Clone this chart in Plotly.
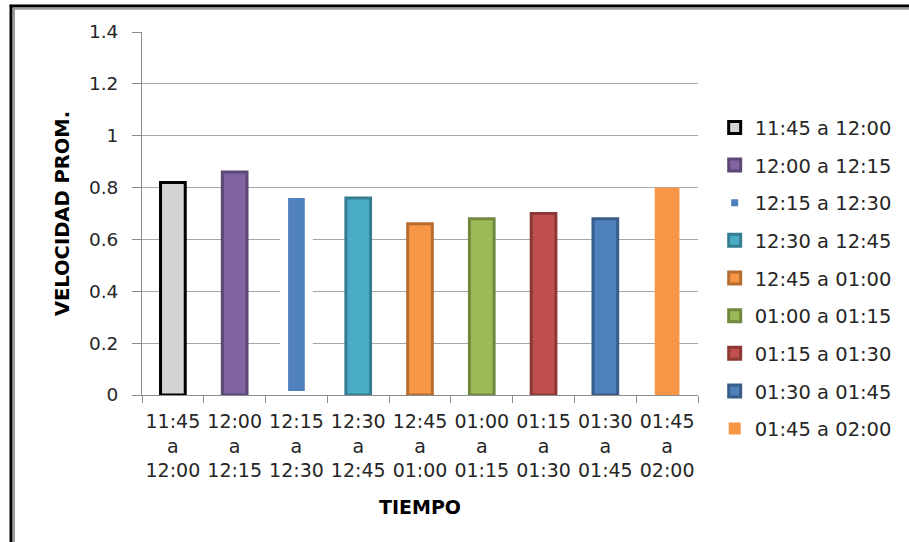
import plotly.graph_objects as go

# Intervalos de tiempo (categorías del eje X y nombres de la leyenda)
intervalos = ["11:45 a 12:00", "12:00 a 12:15", "12:15 a 12:30", "12:30 a 12:45",
              "12:45 a 01:00", "01:00 a 01:15", "01:15 a 01:30", "01:30 a 01:45",
              "01:45 a 02:00"]
# Velocidad promedio de cada intervalo
velocidad = [0.82, 0.86, 0.775, 0.76, 0.66, 0.68, 0.70, 0.68, 0.80]

# Relleno y borde de cada serie
rellenos = ["#d4d4d4", "#8064a2", "#4f81bd", "#4bacc6", "#f79646",
            "#9bbb59", "#c0504d", "#4f81bd", "#f79646"]
bordes = ["#000000", "#5c4776", "#ffffff", "#357d91", "#b66d31",
          "#71893f", "#8c3836", "#385d8a", "#f79646"]
grosor = [3, 3, 8, 3, 3, 3, 3, 3, 0]

FONT = "DejaVu Sans"
TXT = "#262626"

# Etiquetas del eje X en tres líneas: "hh:mm / a / hh:mm"
etiquetas = [s.replace(" a ", "<br>a<br>") for s in intervalos]

fig = go.Figure()
for i, nombre in enumerate(intervalos):
    fig.add_trace(go.Bar(
        x=[etiquetas[i]], y=[velocidad[i]], name=nombre,
        legendgroup=nombre, width=0.4,
        marker=dict(color=rellenos[i],
                    line=dict(color=bordes[i], width=grosor[i])),
    ))

fig.update_layout(
    width=909, height=542,
    margin=dict(l=142, r=211, t=32, b=147),
    paper_bgcolor="white", plot_bgcolor="white",
    barmode="overlay",
    font=dict(family=FONT, size=18, color=TXT),
    showlegend=True,
    legend=dict(x=1.03, xanchor="left", y=0.79, yanchor="top",
                font=dict(family=FONT, size=19.5, color=TXT),
                tracegroupgap=9.3, bgcolor="rgba(0,0,0,0)"),
    xaxis=dict(
        type="category", categoryorder="array", categoryarray=etiquetas,
        tickson="boundaries", ticks="outside", ticklen=7, tickcolor="#8c8c8c",
        showline=True, linecolor="#8c8c8c", linewidth=1,
        showgrid=False, automargin=False, tickangle=0,
        tickfont=dict(family=FONT, size=19, color=TXT),
        ticklabelstandoff=9,
        title=dict(text="<b>TIEMPO</b>", standoff=20,
                   font=dict(family=FONT, size=19, color="#000000")),
    ),
    yaxis=dict(
        range=[0, 1.4], dtick=0.2, tick0=0,
        ticks="outside", ticklen=9, tickcolor="#8c8c8c",
        showline=True, linecolor="#8c8c8c", linewidth=1,
        showgrid=True, gridcolor="#a6a6a6", gridwidth=1,
        zeroline=False, automargin=False,
        tickfont=dict(family=FONT, size=18.5, color=TXT),
        ticklabelstandoff=10,
        title=dict(text="<b>VELOCIDAD PROM.</b>", standoff=14,
                   font=dict(family=FONT, size=19.5, color="#000000")),
    ),
)

# Marco del gráfico (líneas superior e izquierda)
fig.add_shape(type="line", xref="paper", yref="paper",
              x0=-0.238, x1=1.4, y0=1.0716, y1=1.0716,
              line=dict(color="#000000", width=3))
fig.add_shape(type="line", xref="paper", yref="paper",
              x0=-0.232, x1=1.4, y0=1.064, y1=1.064,
              line=dict(color="#9a9a9a", width=2))
fig.add_shape(type="line", xref="paper", yref="paper",
              x0=-0.2356, x1=-0.2356, y0=-0.5, y1=1.075,
              line=dict(color="#000000", width=3))
fig.add_shape(type="line", xref="paper", yref="paper",
              x0=-0.2302, x1=-0.2302, y0=-0.5, y1=1.066,
              line=dict(color="#9a9a9a", width=2))

fig.write_html("out.html")
